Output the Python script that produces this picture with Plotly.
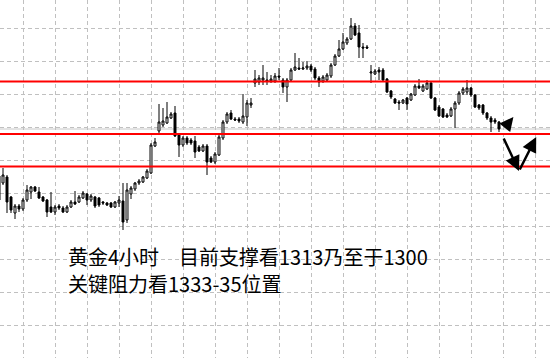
import plotly.graph_objects as go

# Gold 4H candles (index -1 .. 124), prices
bar_index = list(range(-1, 125))

opens = [
    1296.2, 1293.4, 1295.8, 1287.8, 1281.4, 1284.2, 1283.0, 1286.6, 1289.8, 1291.8,
    1289.8, 1287.8, 1286.6, 1283.8, 1281.8, 1284.2, 1283.4, 1281.8, 1283.8, 1285.8,
    1285.8, 1287.4, 1289.0, 1286.6, 1287.8, 1287.4, 1285.8, 1285.4, 1285.4, 1283.8,
    1285.4, 1286.2, 1278.6, 1289.0, 1291.0, 1293.4, 1293.8, 1295.4, 1297.4, 1308.2,
    1314.2, 1316.6, 1317.4, 1319.4, 1321.4, 1312.6, 1308.6, 1311.4, 1310.6, 1310.2,
    1307.8, 1306.2, 1308.2, 1303.4, 1301.8, 1304.6, 1311.4, 1317.8, 1321.4, 1319.0,
    1319.0, 1317.8, 1319.8, 1324.6, 1333.4, 1333.8, 1334.6, 1334.6, 1334.2, 1334.2,
    1336.2, 1334.6, 1331.8, 1334.6, 1338.6, 1339.4, 1339.0, 1339.4, 1340.2, 1339.0,
    1335.4, 1334.2, 1334.6, 1336.2, 1340.6, 1344.2, 1347.0, 1349.4, 1351.0, 1356.2,
    1353.4, 1347.8, 1347.8, 1337.4, 1337.0, 1338.6, 1338.6, 1335.0, 1330.2, 1327.0,
    1325.8, 1325.4, 1327.4, 1326.6, 1328.6, 1332.2, 1330.2, 1331.0, 1333.4, 1327.4,
    1323.8, 1323.0, 1320.6, 1320.2, 1323.0, 1325.4, 1329.4, 1329.8, 1331.4, 1328.6,
    1324.6, 1324.6, 1321.4, 1319.4, 1318.6, 1317.8,
]
highs = [
    1297.8, 1299.4, 1296.6, 1288.2, 1285.0, 1285.0, 1287.4, 1292.6, 1292.2, 1292.2,
    1291.8, 1288.2, 1287.0, 1289.8, 1284.6, 1285.0, 1284.2, 1284.6, 1286.6, 1290.2,
    1288.6, 1290.2, 1289.4, 1289.0, 1288.2, 1287.8, 1286.2, 1285.8, 1285.8, 1286.2,
    1288.2, 1293.4, 1293.4, 1292.2, 1293.8, 1295.0, 1296.2, 1299.0, 1309.4, 1311.4,
    1325.0, 1323.4, 1325.8, 1321.8, 1324.2, 1313.4, 1312.2, 1312.2, 1311.4, 1312.2,
    1308.6, 1309.0, 1309.0, 1304.2, 1305.8, 1312.6, 1318.6, 1321.8, 1322.6, 1319.8,
    1319.8, 1329.0, 1326.6, 1327.4, 1338.6, 1336.6, 1340.6, 1337.8, 1336.6, 1337.4,
    1339.4, 1335.4, 1335.4, 1339.4, 1345.4, 1343.4, 1341.8, 1342.2, 1341.0, 1339.8,
    1336.2, 1336.6, 1337.4, 1341.4, 1345.0, 1350.6, 1353.4, 1351.8, 1359.4, 1357.4,
    1356.6, 1349.4, 1348.6, 1340.6, 1339.0, 1339.8, 1339.4, 1335.4, 1330.6, 1327.4,
    1326.6, 1327.0, 1327.8, 1329.4, 1333.0, 1335.0, 1333.0, 1334.6, 1333.8, 1327.8,
    1324.6, 1323.4, 1321.4, 1323.8, 1326.2, 1330.2, 1331.8, 1334.6, 1331.8, 1329.0,
    1325.0, 1325.0, 1321.8, 1320.2, 1319.4, 1318.2,
]
lows = [
    1279.4, 1292.6, 1281.4, 1281.4, 1279.0, 1281.8, 1282.2, 1285.8, 1287.0, 1289.8,
    1287.0, 1285.8, 1279.8, 1281.4, 1280.6, 1282.6, 1281.4, 1281.4, 1283.4, 1284.6,
    1285.4, 1287.0, 1284.6, 1285.8, 1283.4, 1283.8, 1284.6, 1284.2, 1283.4, 1283.4,
    1283.8, 1274.6, 1277.4, 1287.0, 1290.2, 1292.6, 1293.4, 1295.0, 1297.0, 1307.8,
    1312.6, 1315.8, 1317.0, 1319.0, 1311.8, 1303.8, 1307.8, 1308.6, 1308.6, 1303.4,
    1305.8, 1305.8, 1296.6, 1301.4, 1301.0, 1304.2, 1310.6, 1317.0, 1318.6, 1318.2,
    1317.4, 1317.0, 1316.2, 1323.4, 1331.8, 1332.6, 1332.6, 1332.6, 1333.4, 1333.4,
    1334.6, 1329.4, 1325.8, 1334.2, 1338.2, 1338.6, 1338.6, 1338.6, 1337.8, 1334.6,
    1331.8, 1333.4, 1334.2, 1335.4, 1340.2, 1343.8, 1346.6, 1348.6, 1350.6, 1352.2,
    1343.4, 1343.4, 1347.0, 1333.4, 1336.6, 1334.6, 1334.2, 1329.4, 1327.0, 1325.0,
    1322.6, 1325.0, 1322.6, 1326.2, 1328.2, 1331.0, 1329.8, 1330.6, 1327.0, 1322.2,
    1319.8, 1319.4, 1319.4, 1319.8, 1315.4, 1324.6, 1328.6, 1328.6, 1327.8, 1323.4,
    1322.6, 1320.6, 1318.6, 1313.8, 1317.0, 1313.8,
]
closes = [
    1286.6, 1296.6, 1285.8, 1282.6, 1284.2, 1283.0, 1286.6, 1290.6, 1291.8, 1290.2,
    1287.4, 1286.2, 1281.8, 1281.8, 1283.8, 1283.4, 1281.8, 1283.8, 1285.8, 1285.0,
    1287.8, 1289.4, 1286.6, 1288.2, 1284.2, 1284.6, 1285.4, 1284.6, 1283.8, 1285.8,
    1286.6, 1277.8, 1290.6, 1291.4, 1293.4, 1294.2, 1295.8, 1298.2, 1308.6, 1309.8,
    1317.8, 1318.2, 1319.8, 1321.0, 1312.2, 1308.6, 1311.4, 1309.4, 1309.4, 1305.8,
    1306.2, 1308.2, 1301.8, 1301.8, 1305.0, 1311.8, 1317.8, 1321.0, 1319.0, 1318.6,
    1318.2, 1320.2, 1325.4, 1325.4, 1335.0, 1335.4, 1335.4, 1334.2, 1335.0, 1336.2,
    1335.8, 1331.8, 1334.6, 1338.6, 1339.8, 1339.0, 1339.4, 1340.2, 1338.6, 1335.4,
    1333.8, 1335.8, 1336.6, 1340.6, 1344.2, 1347.0, 1349.8, 1351.0, 1356.2, 1352.6,
    1347.8, 1347.4, 1347.4, 1337.8, 1338.2, 1337.8, 1334.6, 1329.8, 1327.8, 1325.4,
    1325.4, 1326.6, 1325.0, 1329.0, 1332.2, 1331.4, 1332.2, 1333.4, 1327.4, 1322.6,
    1320.2, 1319.8, 1319.8, 1323.0, 1325.4, 1329.4, 1331.0, 1331.4, 1328.6, 1323.8,
    1323.4, 1321.4, 1319.4, 1317.8, 1317.8, 1315.0,
]
assert len(opens) == len(highs) == len(lows) == len(closes) == len(bar_index)

# Key levels
resistance_level = 1334.0
support_levels = [1313.0, 1300.0]
current_price_line = 1315.0

# Grid positions
x_grid = list(range(5, 134, 8))
y_grid = [1355.3, 1342.1, 1328.9, 1315.7, 1302.5, 1289.3, 1276.1, 1262.9, 1249.7, 1236.5]

text_line1a = "黄金4小时"
text_line1b = "目前支撑看1313乃至于1300"
text_line2 = "关键阻力看1333-35位置"

fig = go.Figure()
fig.add_trace(go.Candlestick(
    x=bar_index, open=opens, high=highs, low=lows, close=closes,
    increasing=dict(line=dict(color="black", width=1), fillcolor="white"),
    decreasing=dict(line=dict(color="black", width=1), fillcolor="black"),
    whiskerwidth=0, hoverinfo="skip", showlegend=False,
))

shapes = []
shapes.append(dict(type="line", xref="paper", x0=0, x1=1, yref="y",
                   y0=current_price_line, y1=current_price_line,
                   line=dict(color="#c8c8c8", width=1), layer="below"))
for lv in [resistance_level] + support_levels:
    shapes.append(dict(type="line", xref="paper", x0=0, x1=1, yref="y", y0=lv, y1=lv,
                       line=dict(color="#ff0000", width=2)))

font_txt = dict(family="Noto Sans CJK SC", size=20, color="black")
annotations = [
    dict(text=text_line1a, xref="paper", yref="paper", x=67/550, y=1-256/358,
         xanchor="left", yanchor="middle", showarrow=False, borderpad=0, font=font_txt),
    dict(text=text_line1b, xref="paper", yref="paper", x=178/550, y=1-256/358,
         xanchor="left", yanchor="middle", showarrow=False, borderpad=0, font=font_txt),
    dict(text=text_line2, xref="paper", yref="paper", x=67/550, y=1-283.5/358,
         xanchor="left", yanchor="middle", showarrow=False, borderpad=0, font=font_txt),
    # projected path arrows
    dict(text="", x=129, y=1298.2, ax=125, ay=1311.8, xref="x", yref="y",
         axref="x", ayref="y", showarrow=True, arrowhead=2, arrowsize=1.2,
         arrowwidth=2.5, arrowcolor="black", standoff=0),
    dict(text="", x=133.3, y=1311.8, ax=129, ay=1298.2, xref="x", yref="y",
         axref="x", ayref="y", showarrow=True, arrowhead=2, arrowsize=1.2,
         arrowwidth=2.5, arrowcolor="black", standoff=0),
    dict(text="", x=127.6, y=1319.8, ax=126.4, ay=1317.4, xref="x", yref="y",
         axref="x", ayref="y", showarrow=True, arrowhead=2, arrowsize=1.1,
         arrowwidth=2.5, arrowcolor="black", standoff=0),
]

fig.update_layout(
    width=550, height=358,
    margin=dict(l=0, r=0, t=0, b=0),
    paper_bgcolor="white", plot_bgcolor="white",
    shapes=shapes, annotations=annotations,
    showlegend=False, hovermode=False,
    xaxis=dict(range=[-0.75, 136.75], rangeslider=dict(visible=False),
               tickvals=x_grid, showticklabels=False, ticks="",
               showgrid=True, gridcolor="#c0c0c0", gridwidth=1, griddash="4px,3px",
               zeroline=False, showline=False, fixedrange=True),
    yaxis=dict(range=[1223.4, 1366.6],
               tickvals=y_grid, showticklabels=False, ticks="",
               showgrid=True, gridcolor="#c0c0c0", gridwidth=1, griddash="4px,3px",
               zeroline=False, showline=False, fixedrange=True),
)

fig.write_html("out.html", config={"displayModeBar": False})
